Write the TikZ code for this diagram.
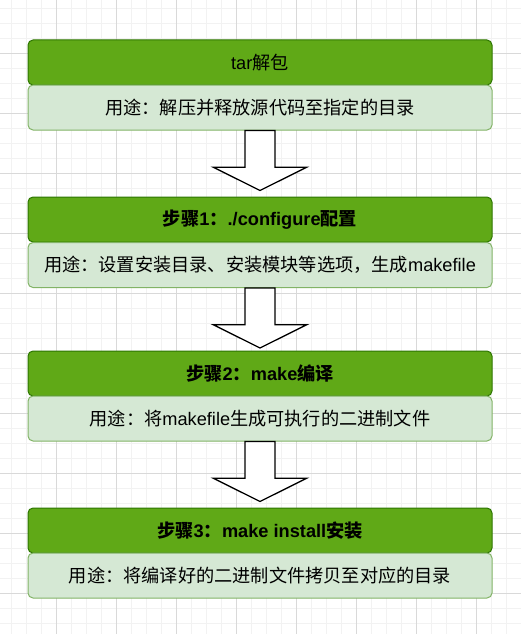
\documentclass[tikz,border=0pt]{standalone}
\usepackage{fontspec}
\setmainfont{Liberation Sans}
\newfontfamily\cjk{Noto Sans CJK SC}
\usetikzlibrary{calc}
\definecolor{hdrfill}{HTML}{60A917}
\definecolor{hdrline}{HTML}{2D7600}
\definecolor{subfill}{HTML}{D5E8D4}
\definecolor{subline}{HTML}{82B366}
\definecolor{gridminor}{HTML}{F2F2F2}
\definecolor{gridmajor}{HTML}{D9D9D9}
\begin{document}
\begin{tikzpicture}[x=1pt,y=-1pt,
  hdr/.style={draw=hdrline, fill=hdrfill, rounded corners=5pt, minimum width=464pt,
    minimum height=45pt, inner sep=0pt, line width=1pt, text=black,
    font=\fontsize{18.2}{20}\selectfont},
  sub/.style={draw=subline, fill=subfill, rounded corners=5pt, minimum width=464pt,
    minimum height=45pt, inner sep=0pt, line width=1pt, text=black,
    font=\fontsize{18.2}{20}\selectfont},
  blockarrow/.style={draw=black, fill=white, line width=1.3pt, line join=miter}]
\useasboundingbox (0,0) rectangle (521,634);
\fill[white] (0,0) rectangle (521,634);
% grid
\foreach \i in {0,...,34} {\draw[gridminor, line width=0.8pt] ({11.667+15*\i},0) -- ++(0,634);}
\foreach \i in {0,...,41} {\draw[gridminor, line width=0.8pt] (0,{8.333+15*\i}) -- ++(521,0);}
\foreach \i in {0,...,7} {\draw[gridmajor, line width=0.8pt] ({56.667+60*\i},0) -- ++(0,634);}
\foreach \i in {0,...,9} {\draw[gridmajor, line width=0.8pt] (0,{53.333+60*\i}) -- ++(521,0);}
% step boxes
\node[hdr] (h0) at (260,62.5) {tar{\cjk 解包}};
\node[sub] (s0) at (260,107.5) {\cjk 用途：解压并释放源代码至指定的目录};
\node[hdr, font=\fontsize{18.2}{20}\selectfont\bfseries] (h1) at (260,219.5) {{\cjk\bfseries 步骤}1{\cjk\bfseries ：}./configure{\cjk\bfseries 配置}};
\node[sub] (s1) at (260,265) {{\cjk 用途：设置安装目录、安装模块等选项，生成}makefile};
\node[hdr, font=\fontsize{18.2}{20}\selectfont\bfseries] (h2) at (260,373.5) {{\cjk\bfseries 步骤}2{\cjk\bfseries ：}make{\cjk\bfseries 编译}};
\node[sub] (s2) at (260,418.5) {{\cjk 用途：将}makefile{\cjk 生成可执行的二进制文件}};
\node[hdr, font=\fontsize{18.2}{20}\selectfont\bfseries] (h3) at (260,530.5) {{\cjk\bfseries 步骤}3{\cjk\bfseries ：}make install{\cjk\bfseries 安装}};
\node[sub] (s3) at (260,575.5) {\cjk 用途：将编译好的二进制文件拷贝至对应的目录};
% block arrows
\foreach \a in {s0,s1,s2} {
  \draw[blockarrow] ($(\a.south)+(-15,0)$) -- ++(0,36.7) -- ++(-31.7,0)
    -- ($(\a.south)+(0,60)$) -- ($(\a.south)+(46.7,36.7)$) -- ++(-31.7,0)
    -- ($(\a.south)+(15,0)$) -- cycle;
}
\end{tikzpicture}
\end{document}
